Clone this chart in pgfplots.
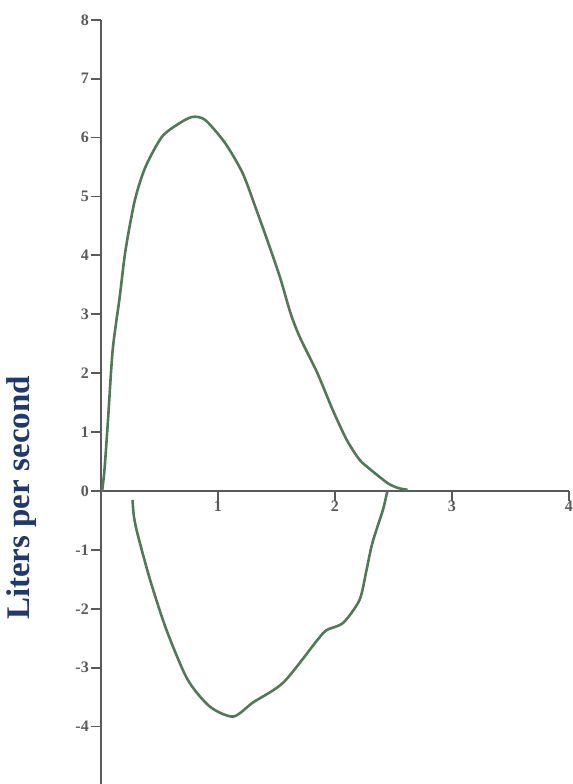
\documentclass[border=0pt]{standalone}
\usepackage{fontspec}
\setmainfont{Liberation Serif}
\usepackage{pgfplots}
\pgfplotsset{compat=1.18}
\definecolor{curve}{RGB}{80,122,86}
\definecolor{axisgray}{RGB}{90,90,90}
\definecolor{labelblue}{RGB}{31,56,110}
\begin{document}
\begin{tikzpicture}
\begin{axis}[
  x=117pt, y=58.9pt,
  xmin=0, xmax=4, ymin=-4.97, ymax=8,
  axis lines=middle,
  axis line style={axisgray, line width=2.6pt, -},
  xtick={1,2,3,4}, ytick={-4,-3,...,8},
  hide obscured x ticks=false, hide obscured y ticks=false,
  tick align=outside,
  major tick length=10pt,
  tick style={axisgray, line width=1.8pt},
  tick label style={font=\bfseries\fontsize{16}{16}\selectfont, text=axisgray},
  yticklabel style={inner sep=2pt},
  xticklabel style={inner sep=0pt},
  /pgf/number format/assume math mode=true,
  clip=false,
]
\addplot[curve, line width=2.6pt, smooth, tension=0.45] coordinates {
(0.01,0) (0.03,0.36) (0.06,1.2) (0.10,2.39) (0.16,3.29) (0.21,4.09)
(0.29,4.94) (0.38,5.50) (0.52,6.01) (0.66,6.23) (0.78,6.35) (0.89,6.30)
(1.06,5.91) (1.21,5.40) (1.32,4.82) (1.43,4.21) (1.53,3.63) (1.62,3.02)
(1.70,2.61) (1.85,2.0) (1.98,1.38) (2.10,0.87) (2.21,0.53) (2.30,0.37)
(2.38,0.24) (2.46,0.12) (2.54,0.05) (2.62,0.02)
};
\addplot[curve, line width=2.6pt, smooth, tension=0.45] coordinates {
(0.27,-0.15) (0.28,-0.41) (0.31,-0.71) (0.42,-1.51) (0.56,-2.36)
(0.74,-3.20) (0.93,-3.66) (1.13,-3.83) (1.30,-3.59) (1.56,-3.25)
(1.85,-2.53) (1.93,-2.36) (2.07,-2.24) (2.21,-1.85) (2.27,-1.34)
(2.32,-0.88) (2.41,-0.32) (2.44,-0.07) (2.45,0.0)
};
\node[rotate=90, text=labelblue, font=\bfseries\fontsize{33}{33}\selectfont] at (axis cs:-0.675,-0.12) {Liters per second};
\coordinate (bbA) at (axis cs:-0.863,-4.975);
\coordinate (bbB) at (axis cs:4.034,8.336);
\end{axis}
\pgfresetboundingbox
\useasboundingbox (bbA) rectangle (bbB);
\end{tikzpicture}
\end{document}
